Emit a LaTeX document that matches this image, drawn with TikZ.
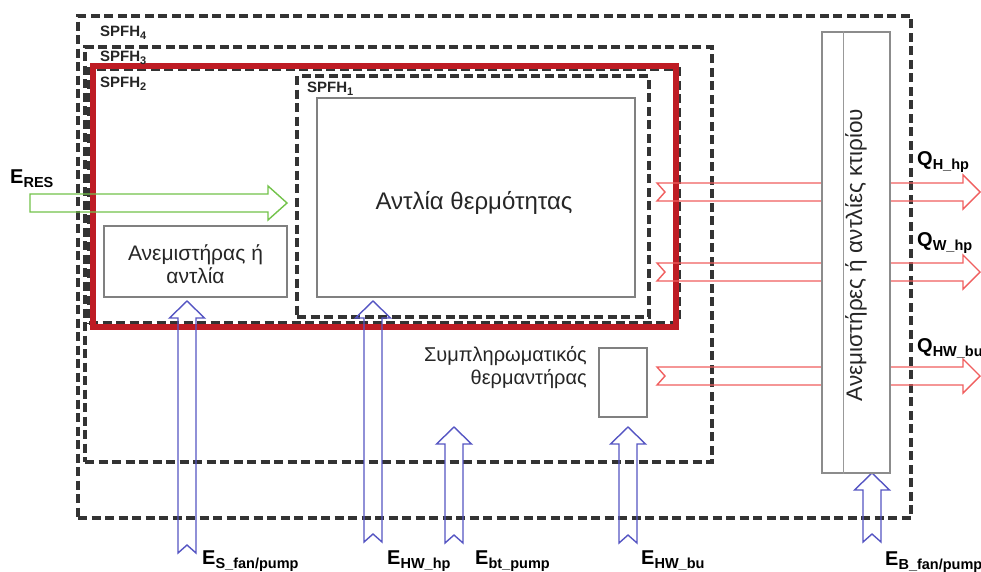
\documentclass[tikz,border=0pt]{standalone}
\usepackage{fontspec}
\setmainfont{Liberation Sans}
\definecolor{framered}{RGB}{190,28,36}
\definecolor{arrred}{RGB}{240,95,95}
\definecolor{arrgreen}{RGB}{115,195,75}
\definecolor{arrblue}{RGB}{85,85,195}
\newcommand{\lsub}[1]{\raisebox{-0.38ex}{\fontsize{14.5}{14.5}\selectfont #1}}
\newcommand{\ssub}[1]{\raisebox{-0.4ex}{\fontsize{11}{11}\selectfont #1}}
\newcommand{\UpArr}[3]{\draw[bluearr] (#1-9,#2) -- (#1-9,#3+17) -- (#1-17.5,#3+17) -- (#1,#3) -- (#1+17.5,#3+17) -- (#1+9,#3+17) -- (#1+9,#2) -- (#1,#2-8) -- cycle;}
\newcommand{\RightArr}[1]{\draw[redarr] (657,#1-9) -- (963,#1-9) -- (963,#1-17) -- (980,#1) -- (963,#1+17) -- (963,#1+9) -- (657,#1+9) -- (665,#1) -- cycle;}
\begin{document}
\begin{tikzpicture}[x=1pt,y=-1pt,
  spfhbox/.style={draw=black!80, line width=3.2pt, dash pattern=on 9pt off 4.5pt, inner sep=0pt},
  redframe/.style={draw=framered, line width=6pt, inner sep=0pt},
  graybox/.style={draw=black!50, line width=1.6pt, fill=white, inner sep=0pt},
  bluearr/.style={draw=arrblue, line width=1.4pt},
  redarr/.style={draw=arrred, line width=1.4pt},
  greenarr/.style={draw=arrgreen, line width=1.4pt},
  lbl/.style={font=\fontsize{20}{20}\selectfont\bfseries, inner sep=0pt, anchor=base west},
  slbl/.style={font=\fontsize{15}{15}\selectfont\bfseries, inner sep=0pt, anchor=base west, text=black!85},
  txt/.style={text=black!85, inner sep=0pt}]
\useasboundingbox (0,0) rectangle (981,571);
\fill[white] (0,0) rectangle (981,571);
% frames
\node[spfhbox, minimum width=833pt, minimum height=502pt] (spfh4) at (494.5,267) {};
\node[spfhbox, minimum width=627pt, minimum height=415pt] (spfh3) at (398.5,254.5) {};
\node[spfhbox, minimum width=590pt, minimum height=254pt] (spfh2d) at (384,196) {};
\node[redframe, minimum width=583pt, minimum height=261pt] (spfh2) at (384.5,196.5) {};
\node[spfhbox, minimum width=352pt, minimum height=241pt] (spfh1) at (473,196.5) {};
% frame labels
\node[slbl] (l4) at (100,36) {SPFH\ssub{4}};
\node[slbl] (l3) at (100,61) {SPFH\ssub{3}};
\node[slbl] (l2) at (100,87) {SPFH\ssub{2}};
\node[slbl] (l1) at (307,92) {SPFH\ssub{1}};
% arrows
\draw[greenarr] (30,194) -- (268,194) -- (268,186) -- (287,203) -- (268,220) -- (268,212) -- (30,212) -- cycle;
\RightArr{192}
\RightArr{272}
\RightArr{376}
\UpArr{187}{553}{301}
\UpArr{373}{542}{301}
\UpArr{454}{543}{427}
\UpArr{628}{543}{427}
\UpArr{872}{542}{473}
% boxes
\node[graybox, minimum width=318pt, minimum height=199pt] (hp) at (476,197.5) {};
\node[txt, font=\fontsize{24}{24}\selectfont] (hptxt) at (474,203) {Αντλία θερμότητας};
\node[graybox, minimum width=183pt, minimum height=71pt] (fan) at (195.5,261.5) {};
\node[txt, align=center, font=\fontsize{21}{23}\selectfont] (fantxt) at (195.5,264) {Ανεμιστήρας ή\\αντλία};
\node[graybox, minimum width=48pt, minimum height=69pt] (heater) at (623,382.5) {};
\node[txt, anchor=north east, align=right, font=\fontsize{20}{23}\selectfont] (heatertxt) at (587,346) {Συμπληρωματικός\\θερμαντήρας};
\node[graybox, draw=black!45, line width=2.2pt, minimum width=68pt, minimum height=441pt] (bld) at (856,252.5) {};
\draw[black!40, line width=0.6pt] ([xshift=22pt]bld.north west) -- ([xshift=22pt]bld.south west);
\node[txt, rotate=90, anchor=base, font=\fontsize{22.5}{22.5}\selectfont] (bldtxt) at (862,255) {Ανεμιστήρες ή αντλίες κτιρίου};
% energy labels
\node[lbl] (eres) at (10,183) {E\lsub{RES}};
\node[lbl] (qh) at (917,165) {Q\lsub{H\_hp}};
\node[lbl] (qw) at (917,246) {Q\lsub{W\_hp}};
\node[lbl] (qhw) at (917,352) {Q\lsub{HW\_bu}};
\node[lbl] (es) at (202,564) {E\lsub{S\_fan/pump}};
\node[lbl] (ehw) at (387,564) {E\lsub{HW\_hp}};
\node[lbl] (ebt) at (475,564) {E\lsub{bt\_pump}};
\node[lbl] (ehwbu) at (641,564) {E\lsub{HW\_bu}};
\node[lbl] (eb) at (885,565) {E\lsub{B\_fan/pump}};
\end{tikzpicture}
\end{document}
